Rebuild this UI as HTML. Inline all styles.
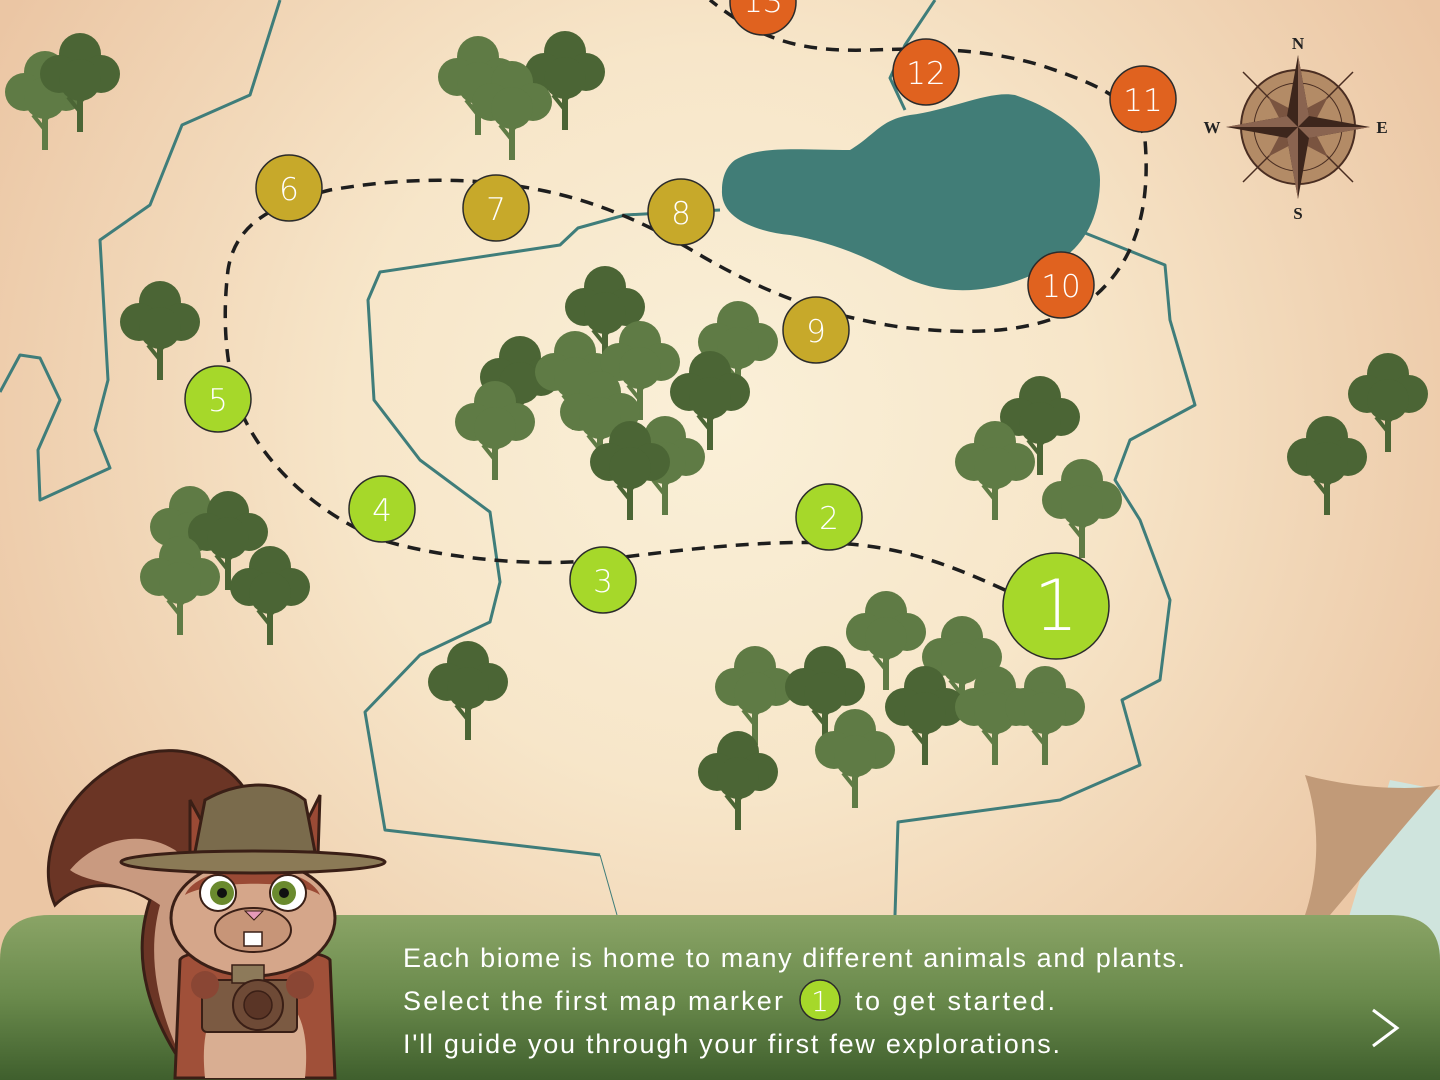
<!DOCTYPE html>
<html><head><meta charset="utf-8"><style>
html,body{margin:0;padding:0;width:1440px;height:1080px;overflow:hidden;background:#f3dcc0}
svg{display:block}
</style></head><body>
<svg width="1440" height="1080" viewBox="0 0 1440 1080" xmlns="http://www.w3.org/2000/svg">
<defs>
<radialGradient id="bg" cx="720" cy="420" r="820" gradientUnits="userSpaceOnUse">
<stop offset="0" stop-color="#faf0d8"/><stop offset="0.45" stop-color="#f7e6c9"/><stop offset="1" stop-color="#ebc6a4"/>
</radialGradient>
<linearGradient id="ban" x1="0" y1="0" x2="0" y2="1">
<stop offset="0" stop-color="#8aa466"/><stop offset="0.5" stop-color="#6a8a4c"/><stop offset="1" stop-color="#3f5f2d"/>
</linearGradient>
<g id="tl"><rect x="-3" y="0" width="6" height="60" fill="#5f7b45"/><path d="M0,40 L-12,25 M0,30 L12,18" stroke="#5f7b45" stroke-width="4"/><circle cx="0" cy="-18" r="21" fill="#5f7b45"/><circle cx="-21" cy="2" r="19" fill="#5f7b45"/><circle cx="21" cy="2" r="19" fill="#5f7b45"/><circle cx="0" cy="8" r="21" fill="#5f7b45"/></g>
<g id="td"><rect x="-3" y="0" width="6" height="60" fill="#4b6535"/><path d="M0,40 L-12,25 M0,30 L12,18" stroke="#4b6535" stroke-width="4"/><circle cx="0" cy="-18" r="21" fill="#4b6535"/><circle cx="-21" cy="2" r="19" fill="#4b6535"/><circle cx="21" cy="2" r="19" fill="#4b6535"/><circle cx="0" cy="8" r="21" fill="#4b6535"/></g>
</defs>
<rect width="1440" height="1080" fill="url(#bg)"/>
<path d="M1390,780 L1440,790 L1440,1080 L1300,1080 Z" fill="#cfe4dd"/>
<path d="M1305,775 C1360,790 1420,790 1440,785 C1400,830 1360,880 1330,915 L1305,915 C1320,870 1320,820 1305,775 Z" fill="#c19a78"/>

<g fill="none" stroke="#3f7d7a" stroke-width="3" stroke-linejoin="round">
<path d="M280,0 L250,95 L182,125 L150,205 L100,240 L108,380 L95,430 L110,468 L40,500 L38,450 L60,400 L40,358 L20,355 L0,392"/>
<path d="M720,210 L625,215 L578,228 L560,245 L380,272 L368,300 L374,400 L420,460 L490,512 L500,582 L490,622 L420,655 L365,712 L385,830 L600,855" />
<path d="M600,855 L617,915" stroke-width="1"/>
<path d="M1085,233 L1165,265 L1170,320 L1195,405 L1130,440 L1115,480 L1140,520 L1170,600 L1160,680 L1122,700 L1140,765 L1060,800 L898,822 L895,915"/>
<path d="M935,0 L905,45 L890,78 L905,110"/>
</g>
<path d="M735,160 C760,145 800,150 850,150 C875,135 880,120 910,115 C950,110 990,90 1015,95 C1060,110 1100,140 1100,180 C1100,215 1085,245 1060,260 C1030,280 990,292 955,290 C920,288 900,275 880,265 C850,250 820,240 790,235 C760,232 720,220 722,190 C722,175 728,165 735,160 Z" fill="#417d77"/>

<path d="M1005,590 C950,565 900,545 830,543 C760,540 680,550 600,560 C520,568 430,555 382,540 C320,515 270,470 245,420 C225,375 222,320 228,270 C235,225 270,205 330,190 C400,178 470,176 540,190 C600,202 650,225 700,255 C760,290 820,315 900,327 C970,335 1040,335 1090,300 C1140,260 1150,200 1145,140 C1135,100 1100,85 1040,65 C980,48 930,48 870,50 C800,52 760,40 710,0" fill="none" stroke="#1e1e1e" stroke-width="3.5" stroke-dasharray="13 9"/>

<use href="#tl" x="45" y="90"/><use href="#td" x="80" y="72"/>
<use href="#tl" x="478" y="75"/><use href="#td" x="565" y="70"/><use href="#tl" x="512" y="100"/>
<use href="#td" x="160" y="320"/>
<use href="#tl" x="190" y="525"/><use href="#td" x="228" y="530"/><use href="#tl" x="180" y="575"/><use href="#td" x="270" y="585"/>
<use href="#td" x="468" y="680"/>
<use href="#td" x="605" y="305"/><use href="#tl" x="738" y="340"/><use href="#td" x="520" y="375"/><use href="#tl" x="575" y="370"/><use href="#tl" x="640" y="360"/><use href="#tl" x="600" y="410"/><use href="#td" x="710" y="390"/><use href="#tl" x="495" y="420"/><use href="#tl" x="665" y="455"/><use href="#td" x="630" y="460"/>
<use href="#td" x="1040" y="415"/><use href="#tl" x="995" y="460"/><use href="#tl" x="1082" y="498"/>
<use href="#td" x="1388" y="392"/><use href="#td" x="1327" y="455"/>
<use href="#tl" x="886" y="630"/><use href="#tl" x="962" y="655"/><use href="#tl" x="755" y="685"/><use href="#td" x="825" y="685"/><use href="#td" x="925" y="705"/><use href="#tl" x="995" y="705"/><use href="#tl" x="1045" y="705"/><use href="#tl" x="855" y="748"/><use href="#td" x="738" y="770"/>

<g stroke="#2b2b2b" stroke-width="1.5">
<circle cx="1056" cy="606" r="53" fill="#a6d82a"/>
<circle cx="829" cy="517" r="33" fill="#a6d82a"/>
<circle cx="603" cy="580" r="33" fill="#a6d82a"/>
<circle cx="382" cy="509" r="33" fill="#a6d82a"/>
<circle cx="218" cy="399" r="33" fill="#a6d82a"/>
<circle cx="289" cy="188" r="33" fill="#c7a92a"/>
<circle cx="496" cy="208" r="33" fill="#c7a92a"/>
<circle cx="681" cy="212" r="33" fill="#c7a92a"/>
<circle cx="816" cy="330" r="33" fill="#c7a92a"/>
<circle cx="1061" cy="285" r="33" fill="#e0621f"/>
<circle cx="1143" cy="99" r="33" fill="#e0621f"/>
<circle cx="926" cy="72" r="33" fill="#e0621f"/>
<circle cx="763" cy="2" r="33" fill="#e0621f"/>
</g>
<g font-family="DejaVu Sans, sans-serif" font-weight="200" font-size="31" fill="#fff" text-anchor="middle">
<text x="1056" y="630" font-size="70">1</text>
<text x="829" y="529">2</text><text x="603" y="592">3</text><text x="382" y="521">4</text><text x="218" y="411">5</text>
<text x="289" y="200">6</text><text x="496" y="220">7</text><text x="681" y="224">8</text><text x="816" y="342">9</text>
<text x="1061" y="297">10</text><text x="1143" y="111">11</text><text x="926" y="84">12</text><text x="763" y="12">13</text>
</g>

<g transform="translate(1298,127)">
<circle r="57" fill="#b38b66" stroke="#4a2e22" stroke-width="2"/>
<circle r="44" fill="none" stroke="#4a2e22" stroke-width="1"/>
<g stroke="#4a2e22" stroke-width="1.5"><line x1="-55" y1="-55" x2="55" y2="55"/><line x1="55" y1="-55" x2="-55" y2="55"/></g>
<path d="M0,-42 L10,-10 L42,0 L10,10 L0,42 L-10,10 L-42,0 L-10,-10 Z" fill="#7a5440" transform="rotate(45)"/>
<path d="M0,-72 L11,-11 L72,0 L11,11 L0,72 L-11,11 L-72,0 L-11,-11 Z" fill="#3d261c"/>
<path d="M0,-72 L0,0 L11,-11 Z M72,0 L0,0 L11,11 Z M0,72 L0,0 L-11,11 Z M-72,0 L0,0 L-11,-11 Z" fill="#8a6450"/>
<g font-family="Liberation Serif, serif" font-weight="bold" font-size="17" fill="#222" text-anchor="middle">
<text x="0" y="-78">N</text><text x="0" y="92">S</text><text x="-86" y="6">W</text><text x="84" y="6">E</text>
</g>
</g>

<path d="M0,1080 L0,960 Q0,915 50,915 L1390,915 Q1440,915 1440,960 L1440,1080 Z" fill="url(#ban)"/>
<g font-family="Liberation Sans, sans-serif" font-size="27" fill="#fff">
<text x="403" y="967" textLength="782" lengthAdjust="spacing">Each biome is home to many different animals and plants.</text>
<text x="403" y="1010" textLength="380" lengthAdjust="spacing">Select the first map marker</text>
<text x="855" y="1010" textLength="200" lengthAdjust="spacing">to get started.</text>
<text x="403" y="1053" textLength="657" lengthAdjust="spacing">I'll guide you through your first few explorations.</text>
</g>
<circle cx="820" cy="1000" r="20" fill="#a6d82a" stroke="#2b2b2b" stroke-width="1.5"/>
<text x="820" y="1011" font-family="DejaVu Sans, sans-serif" font-weight="200" font-size="28" fill="#fff" text-anchor="middle">1</text>
<path d="M1373,1010 L1397,1028 L1373,1046" fill="none" stroke="#fff" stroke-width="3"/>

<g stroke="#3a1f16" stroke-width="3">
<path d="M190,1075 C150,1020 130,960 150,900 C120,880 80,880 55,905 C35,860 60,790 130,758 C190,735 240,770 250,800 L230,900 C210,960 220,1030 230,1075 Z" fill="#6b3525"/>
<path d="M190,1075 C160,1020 145,960 160,905 C125,880 90,885 70,870 C95,840 140,828 175,850 C200,870 215,900 215,950 L230,1075 Z" fill="#c99a80" stroke="none"/>
<path d="M175,1078 L180,960 C185,945 320,945 330,960 L335,1078 Z" fill="#a05039"/>
<path d="M205,1078 C200,1030 210,990 255,990 C300,990 310,1030 305,1078 Z" fill="#d9ae92" stroke="none"/>
<ellipse cx="253" cy="918" rx="82" ry="58" fill="#d5a68a"/>
<path d="M185,895 C200,860 305,860 320,895 C300,880 210,880 185,895 Z" fill="#9a4a35" stroke="none"/>
<ellipse cx="253" cy="930" rx="38" ry="22" fill="#c79578" stroke-width="2"/>
<circle cx="218" cy="893" r="18" fill="#fff" stroke-width="2"/><circle cx="288" cy="893" r="18" fill="#fff" stroke-width="2"/>
<circle cx="222" cy="893" r="12" fill="#6a8a2e" stroke="none"/><circle cx="284" cy="893" r="12" fill="#6a8a2e" stroke="none"/>
<circle cx="222" cy="893" r="5" fill="#111" stroke="none"/><circle cx="284" cy="893" r="5" fill="#111" stroke="none"/>
<path d="M245,911 L263,911 L254,920 Z" fill="#e69ab8" stroke-width="1"/>
<rect x="244" y="932" width="18" height="14" fill="#fff" stroke-width="1.5"/>
<path d="M190,800 L190,855 L220,855 Z M320,795 L318,855 L290,855 Z" fill="#9a4a35"/>
<path d="M195,852 L205,800 C240,780 280,780 305,800 L315,852 Z" fill="#7a6b4c"/>
<ellipse cx="253" cy="862" rx="132" ry="11" fill="#8b7a56"/>
<rect x="202" y="980" width="95" height="52" rx="5" fill="#7b5a42" stroke-width="2"/>
<rect x="232" y="965" width="32" height="18" fill="#8d7a5a" stroke-width="1.5"/>
<circle cx="258" cy="1005" r="25" fill="#6e4a36" stroke-width="2"/>
<circle cx="258" cy="1005" r="14" fill="#5a3526" stroke-width="1.5"/>
<circle cx="205" cy="985" r="14" fill="#8a4634" stroke="none"/><circle cx="300" cy="985" r="14" fill="#8a4634" stroke="none"/>
</g>
</svg>
</body></html>
